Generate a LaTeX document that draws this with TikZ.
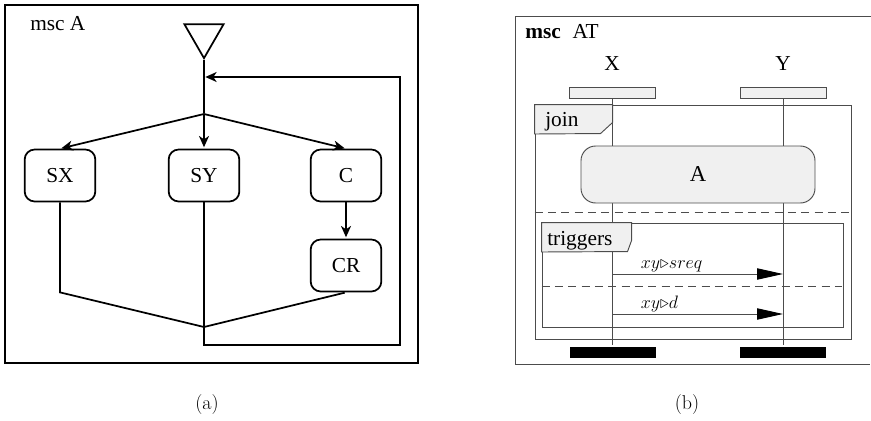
\RequirePackage{fix-cm}
\documentclass[tikz,border=0pt]{standalone}
\usepackage{fontspec}
\newfontfamily\diagfont{Liberation Serif}
\usetikzlibrary{arrows,arrows.meta,shapes.geometric,positioning}
\definecolor{mscline}{gray}{0.3}
\definecolor{mscfill}{gray}{0.94}

\begin{document}
\begin{tikzpicture}[x=0.75pt,y=-0.75pt,>={Stealth[length=8.5pt,width=7.5pt,inset=2.5pt]},shorten >=1pt,
                main node/.style={rectangle,rounded corners=7.5pt,draw,line width=1.3pt,
                  minimum width=53pt,minimum height=39pt,font=\diagfont\fontsize{16}{18}\selectfont},
                start node/.style={regular polygon,regular polygon sides=3,shape border rotate=180,
                  draw,line width=1.3pt,inner sep=0pt,minimum size=34pt},
                flow/.style={line width=1.3pt},
                msc text/.style={font=\diagfont\fontsize{16}{18}\selectfont,inner sep=0pt},
                msc line/.style={draw=mscline,line width=0.7pt},
                cut line/.style={msc line,dash pattern=on 6pt off 4pt},
                inst head/.style={rectangle,draw=mscline,fill=mscfill,line width=0.7pt,
                  minimum width=64.5pt,minimum height=8.25pt,inner sep=0pt},
                inst foot/.style={rectangle,fill=black,minimum width=64.5pt,minimum height=8.25pt,inner sep=0pt},
                frame box/.style={rectangle,draw=mscline,line width=0.7pt,inner sep=0pt},
                frame tag/.style={draw=mscline,fill=mscfill,line width=0.7pt},
                ref box/.style={rectangle,rounded corners=11pt,draw=mscline,fill=mscfill,line width=0.7pt,
                  minimum width=175.5pt,minimum height=42.75pt,font=\diagfont\fontsize{17}{19}\selectfont},
                msg/.style={draw=mscline,line width=0.7pt,shorten >=0pt,
                  -{Triangle[length=19.5pt,width=8.5pt,color=black]}},
                msg label/.style={anchor=base west,inner sep=0pt,font=\fontsize{13.5}{15}\selectfont},
                sub caption/.style={font=\fontsize{15}{17}\selectfont}]
\useasboundingbox (0,0) rectangle (871,421);

% (a) the high-level msc
\draw[flow] (5,5) rectangle (418,363);
\node[msc text,anchor=base west] (namea) at (30,30) {msc A};
\node[start node] (start) at (204,35.5) {};
\coordinate (loop) at (204,77);
\coordinate (fork) at (204,114);
\node[main node] (sy) at (204,175.5) {SY};
\node[main node] (sx) [left of=sy,node distance=108pt] {SX};
\node[main node] (c) [right of=sy,node distance=106.5pt] {C};
\node[main node] (cr) [below of=c,node distance=67.5pt] {CR};
\coordinate (join) at (204,327);
\coordinate (back) at (400,345);

\draw[flow] (start.south) -- (fork);
\path[flow]
(fork) edge[->] (sx.north)
(fork) edge[->] (sy.north)
(fork) edge[->] (c.north)
(c) edge[->] (cr)
;
\draw[flow] (sx) -- (sx |- cr.south) -- (join) -- (cr.south);
\draw[flow,->] (sy) -- (sy |- back) -- (back) -- (back |- loop) -- (loop);

% (b) the msc AT
\draw[msc line] (871,16) -- (515,16) -- (515,364) -- (871,364);
\node[msc text,anchor=base west] (nameb) at (525,38) {\textbf{msc}\hspace{0.55em}AT};
\node[inst head] (hx) at (612.5,92.5) {};
\node[inst head] (hy) at (783,92.5) {};
\node[msc text,anchor=base] (lx) at (612,70) {X};
\node[msc text,anchor=base] (ly) at (783,70) {Y};
\node[inst foot] (fx) at (612.5,352.5) {};
\node[inst foot] (fy) at (783,352.5) {};
\draw[msc line] (hx) -- (fx);
\draw[msc line] (hy) -- (fy);

\node[frame box,minimum width=237pt,minimum height=175.5pt] (joinbox) at (693,222) {};
\draw[frame tag] (joinbox.north west) -- ++(78,0) -- ++(0,18) -- ++(-12,11) -- (joinbox.west |- 0,134) -- cycle;
\node[msc text,anchor=base west] (jointag) at (545,126) {join};
\node[ref box] (ref) at (698,174.5) {A};
\coordinate (cut1) at (0,212);
\draw[cut line] (joinbox.west |- cut1) -- (joinbox.east |- cut1);

\node[frame box,minimum width=225.75pt,minimum height=78pt] (trigbox) at (692.5,275) {};
\draw[frame tag] (trigbox.north west) -- ++(90,0) -- ++(0,18) -- ++(-4,11) -- (trigbox.west |- 0,252) -- cycle;
\node[msc text,anchor=base west] (trigtag) at (547,245) {triggers};
\coordinate (m1) at (0,274);
\coordinate (cut2) at (0,286);
\coordinate (m2) at (0,314);
\draw[msg] (hx |- m1) -- (hy |- m1) node[msg label,pos=0.164,yshift=4pt] {$xy{\triangleright}sreq$};
\draw[cut line] (trigbox.west |- cut2) -- (trigbox.east |- cut2);
\draw[msg] (hx |- m2) -- (hy |- m2) node[msg label,pos=0.164,yshift=4pt] {$xy{\triangleright}d$};

\node[sub caption] (capa) at (207,405) {(a)};
\node[sub caption] (capb) at (687,405) {(b)};
\end{tikzpicture}
\end{document}
